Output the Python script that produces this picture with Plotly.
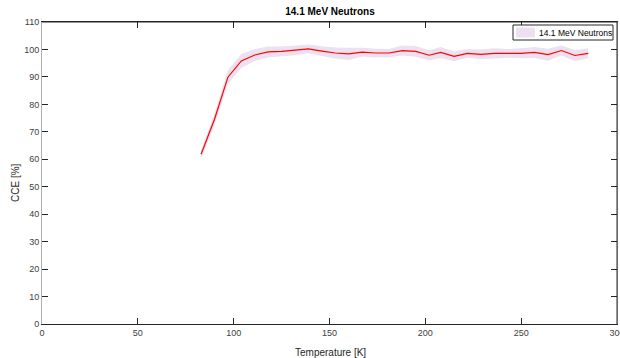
import plotly.graph_objects as go

temperature = [83, 90, 97, 104, 111, 118, 125, 132, 139, 146, 153, 160, 167, 174, 181,
               188, 195, 202, 208, 215, 222, 229, 236, 243, 250, 257, 264, 271, 278, 285]
cce = [61.8, 74.6, 89.9, 95.8, 98.0, 99.1, 99.3, 99.7, 100.2, 99.4, 98.7, 98.4, 99.0, 98.7, 98.7,
       99.6, 99.3, 97.9, 98.9, 97.5, 98.6, 98.2, 98.6, 98.6, 98.6, 98.9, 98.1, 99.6, 97.8, 98.6]
cce_err = [1.5, 2.0, 2.5, 2.5, 2.2, 2.0, 1.8, 1.8, 1.6, 1.8, 2.0, 2.2, 1.6, 1.6, 1.5,
           1.8, 2.0, 1.8, 2.0, 1.8, 1.6, 1.8, 1.8, 1.6, 1.8, 2.0, 2.2, 1.8, 2.0, 1.8]
series_name = "14.1 MeV Neutrons"

upper = [v + e for v, e in zip(cce, cce_err)]
lower = [v - e for v, e in zip(cce, cce_err)]

W, H = 620, 358
L, R, T, B = 42, 3, 22, 34
PW, PH = W - L - R, H - T - B
FILL = "rgb(237,224,240)"


def px(x):
    return (x - L) / PW


def py(y):
    return 1 - (y - T) / PH


fig = go.Figure()
fig.add_trace(go.Scatter(x=temperature, y=upper, mode="lines", line=dict(width=0),
                         showlegend=False, hoverinfo="skip"))
fig.add_trace(go.Scatter(x=temperature, y=lower, mode="lines", line=dict(width=0),
                         fill="tonexty", fillcolor=FILL, name=series_name, showlegend=False))
fig.add_trace(go.Scatter(x=temperature, y=cce, mode="lines",
                         line=dict(color="rgb(255,0,0)", width=1.2), showlegend=False))

fig.update_layout(
    width=W, height=H,
    margin=dict(l=L, r=R, t=T, b=B),
    paper_bgcolor="white", plot_bgcolor="white",
    font=dict(family="Liberation Sans, Arial", size=9, color="#262626"),
    title=dict(text="<b>14.1 MeV Neutrons</b>", x=(330 / W), xanchor="center",
               y=1 - 11 / H, yanchor="middle", font=dict(size=10, color="black")),
    xaxis=dict(range=[0, 300], tickvals=[0, 50, 100, 150, 200, 250, 300],
               ticks="inside", ticklen=6, tickcolor="#262626", showline=True,
               linecolor="#262626", linewidth=1, mirror="ticks", showgrid=False,
               zeroline=False, tickfont=dict(size=9, color="#404040"), automargin=False,
               ticklabeloverflow="allow"),
    yaxis=dict(range=[0, 110], tickvals=list(range(0, 111, 10)),
               ticks="inside", ticklen=6, tickcolor="#262626", showline=True,
               linecolor="#b0b0b0", linewidth=1, mirror="ticks", showgrid=False,
               zeroline=False, tickfont=dict(size=9, color="#404040"), automargin=False),
    showlegend=False,
    shapes=[
        dict(type="line", xref="paper", yref="paper", x0=1, x1=1, y0=0, y1=1,
             line=dict(color="#262626", width=1)),
        dict(type="line", xref="paper", yref="paper", x0=0, x1=1, y0=1, y1=1,
             line=dict(color="#262626", width=1)),
        dict(type="rect", xref="paper", yref="paper", x0=px(513), x1=px(613),
             y0=py(40), y1=py(25), line=dict(color="#262626", width=1), fillcolor="white"),
        dict(type="rect", xref="paper", yref="paper", x0=px(516), x1=px(535),
             y0=py(37.5), y1=py(27.5), line=dict(width=0), fillcolor=FILL),
    ],
    annotations=[
        dict(text=series_name, xref="paper", yref="paper", x=px(537), y=py(32.5),
             xanchor="left", yanchor="middle", showarrow=False,
             font=dict(size=8.5, color="black")),
        dict(text="Temperature [K]", xref="paper", yref="paper", x=px(330), y=py(352),
             xanchor="center", yanchor="middle", showarrow=False,
             font=dict(size=10, color="#262626")),
        dict(text="CCE [%]", xref="paper", yref="paper", x=px(16), y=py(183),
             xanchor="center", yanchor="middle", showarrow=False, textangle=-90,
             font=dict(size=10, color="#262626")),
    ],
)

fig.write_html("out.html", config={"displayModeBar": False},
               post_script="document.body.style.margin='0';document.body.style.overflow='hidden';")
